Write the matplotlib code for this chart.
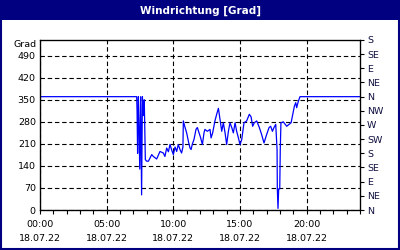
import numpy as np
import matplotlib
matplotlib.use("Agg")
import matplotlib.pyplot as plt
from matplotlib.patches import Rectangle

# wind direction over the day (hours, degrees)
hours = [0.0, 7.25, 7.28, 7.32, 7.38, 7.42, 7.48, 7.55, 7.62, 7.68, 7.75, 7.82, 7.9,
         8.0, 8.13, 8.38, 8.5, 8.75, 9.0, 9.25, 9.37, 9.5, 9.63, 9.75, 9.88, 10.0,
         10.13, 10.25, 10.37, 10.5, 10.62, 10.72, 10.75, 10.88, 11.0, 11.13, 11.25,
         11.33, 11.43, 11.55, 11.7, 11.8, 11.93, 12.05, 12.18, 12.3, 12.37, 12.55,
         12.75, 12.83, 12.95, 13.12, 13.25, 13.38, 13.5, 13.63, 13.75, 13.88, 14.0,
         14.13, 14.25, 14.38, 14.5, 14.63, 14.75, 14.88, 15.0, 15.13, 15.3, 15.5,
         15.7, 15.83, 15.95, 16.07, 16.25, 16.45, 16.62, 16.8, 17.0, 17.18, 17.3,
         17.43, 17.55, 17.68, 17.78, 17.8, 17.85, 17.9, 17.98, 18.02, 18.07, 18.25,
         18.5, 18.68, 18.83, 18.93, 19.08, 19.18, 19.25, 19.38, 19.5, 24.0]
direction = [360, 360, 315, 180, 360, 280, 130, 360, 48, 360, 300, 350, 160,
             155, 155, 176, 170, 162, 186, 181, 170, 197, 185, 208, 190, 176,
             200, 186, 208, 192, 181, 200, 283, 262, 245, 218, 197,
             192, 210, 224, 256, 262, 245, 229, 208, 245, 256, 250,
             256, 229, 245, 283, 304, 323, 288, 250, 277, 245, 208,
             250, 277, 262, 245, 277, 250, 229, 208, 224, 277, 283,
             304, 296, 266, 277, 283, 262, 240, 213, 240, 262, 266,
             250, 262, 272, 192, 67, 5, 67, 67, 190, 277, 280,
             266, 272, 277, 298, 330, 341, 325, 346, 360, 360]

left_ticks = [0, 70, 140, 210, 280, 350, 420, 490]
compass_ticks = list(range(0, 541, 45))
compass_labels = ["N", "NE", "E", "SE", "S", "SW", "W", "NW",
                  "N", "NE", "E", "SE", "S"]
major_hours = [0, 5, 10, 15, 20]
major_labels = ["%02d:00\n18.07.22" % h for h in major_hours]

navy = "#000080"
fs = 6.8

fig = plt.figure(figsize=(4, 2.5), dpi=100)
fig.patch.set_facecolor("white")

# title bar and frame
fig.patches.append(Rectangle((0, 1 - 20 / 250), 1, 20 / 250, transform=fig.transFigure,
                             facecolor=navy, edgecolor="none", zorder=0))
fig.patches.append(Rectangle((0.5 / 400, 1 / 250), 398 / 400, 247 / 250, transform=fig.transFigure,
                             facecolor="none", edgecolor=navy, linewidth=1.5, zorder=0))
fig.text(0.5, 1 - 10.5 / 250, "Windrichtung [Grad]", color="white", fontweight="bold",
         fontsize=7.5, ha="center", va="center")

ax = fig.add_axes([40 / 400, 40 / 250, 320 / 400, 170 / 250])
ax.plot(hours, direction, color="#0000ff", linewidth=0.9, drawstyle="default")
ax.set_xlim(0, 24)
ax.set_ylim(0, 540)

ax.set_yticks(left_ticks)
ax.tick_params(axis="y", length=0, pad=3, labelsize=fs)
ax.set_xticks(major_hours)
ax.set_xticklabels(major_labels, fontsize=fs, linespacing=1.75)
ax.set_xticks(range(0, 25), minor=True)
ax.tick_params(axis="x", which="both", direction="out", length=3, width=0.8, pad=4)

ax.grid(True, axis="both", which="major", color="black", linestyle=(0, (4, 2.5)), linewidth=0.8)
for s in ax.spines.values():
    s.set_color("black")
    s.set_linewidth(0.9)

fig.text(37 / 400, 1 - 45 / 250, "Grad", fontsize=fs, ha="right", va="center")

ax2 = ax.twinx()
ax2.set_ylim(0, 540)
ax2.set_yticks(compass_ticks)
ax2.set_yticklabels(compass_labels, fontsize=fs, color="#101040")
ax2.tick_params(axis="y", direction="out", length=3, width=0.8, pad=2)

fig.savefig("out.png", dpi=100)
